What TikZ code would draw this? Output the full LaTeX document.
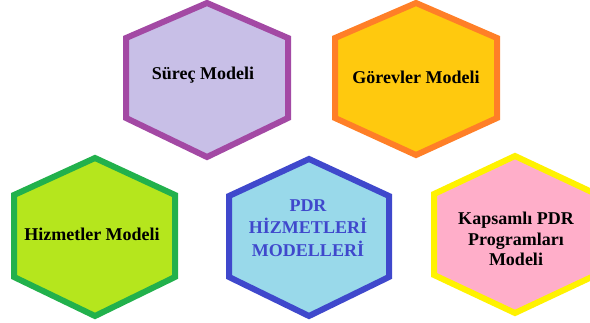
\documentclass[tikz,border=0pt]{standalone}
\usepackage{fontspec}
\setmainfont{Liberation Serif}
\definecolor{purpS}{HTML}{A349A4}
\definecolor{purpF}{HTML}{C8BFE7}
\definecolor{orS}{HTML}{FF7F27}
\definecolor{orF}{HTML}{FFC90E}
\definecolor{grS}{HTML}{22B14C}
\definecolor{grF}{HTML}{B5E61D}
\definecolor{blS}{HTML}{3F48CC}
\definecolor{blF}{HTML}{99D9EA}
\definecolor{yeS}{HTML}{FFF200}
\definecolor{yeF}{HTML}{FFAEC9}
\tikzset{
  hexa/.style={line width=6pt, line join=miter},
  lbl/.style={font=\bfseries\fontsize{18}{21.5}\selectfont, align=center, text=black, inner sep=0pt},
}
\begin{document}
\begin{tikzpicture}[x=1pt,y=-1pt]
\useasboundingbox (0,0) rectangle (590,323);
\clip (0,0) rectangle (590,323);
% Süreç Modeli
\filldraw[hexa, draw=purpS, fill=purpF] (207,3) -- (288,38) -- (288,118) -- (207,157) -- (126,118) -- (126,38) -- cycle;
\node[lbl] (surec) at (203,75) {Süreç Modeli};
% Görevler Modeli
\filldraw[hexa, draw=orS, fill=orF] (416,3) -- (497,38) -- (497,118) -- (416,155) -- (335,118) -- (335,38) -- cycle;
\node[lbl] (gorev) at (416,77) {Görevler Modeli};
% Hizmetler Modeli
\filldraw[hexa, draw=grS, fill=grF] (95,158) -- (175,195) -- (175,277) -- (95,316) -- (14,277) -- (14,195) -- cycle;
\node[lbl] (hizmet) at (92,234) {Hizmetler Modeli};
% PDR Hizmetleri Modelleri
\filldraw[hexa, draw=blS, fill=blF] (309,159) -- (389,196) -- (389,277) -- (309,316) -- (229,277) -- (229,196) -- cycle;
\node[lbl, text=blS, font=\fontsize{18}{22.5}\selectfont\bfseries] (pdr) at (308,228) {PDR\\HİZMETLERİ\\MODELLERİ};
% Kapsamlı PDR Programları Modeli
\filldraw[hexa, draw=yeS, fill=yeF] (515,156) -- (596,194) -- (596,275) -- (515,313) -- (434,275) -- (434,194) -- cycle;
\node[lbl, font=\fontsize{18}{20.5}\selectfont\bfseries] (kaps) at (516,239) {Kapsamlı PDR\\Programları\\Modeli};
\end{tikzpicture}
\end{document}
